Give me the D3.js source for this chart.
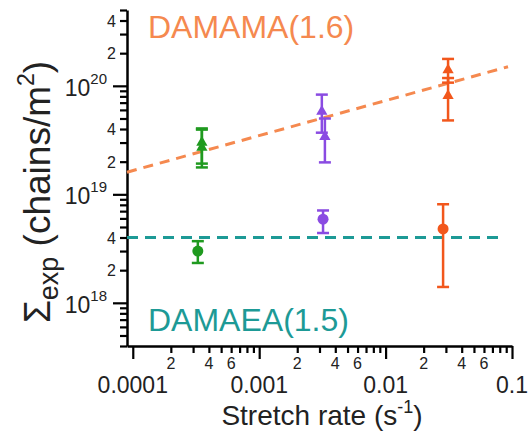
<!DOCTYPE html>
<html>
<head>
<meta charset="utf-8">
<script src="https://cdn.jsdelivr.net/npm/d3@7/dist/d3.min.js"></script>
<style>
  html, body { margin: 0; padding: 0; background: #ffffff; }
  svg { display: block; font-family: "Liberation Sans", Arial, Helvetica, sans-serif; }
</style>
</head>
<body>
<svg id="chart" width="531" height="439"></svg>
<script>
// ---- data ----
const groupColors = ["#1f9a1f", "#8a4be2", "#f2571c"];

// DAMAMA (triangles)
const triRate  = [3.52e-4, 3.52e-4, 3.13e-3, 3.31e-3, 0.0312, 0.0312];
const triSigma = [3.0e19, 2.7e19, 5.8e19, 3.4e19, 1.40e20, 8.1e19];
const triLow   = [1.92e19, 1.77e19, 3.7e19, 1.97e19, 1.07e20, 4.8e19];
const triHigh  = [4.05e19, 3.95e19, 8.3e19, 5.0e19, 1.77e20, 1.18e20];
const triGroup = [0, 0, 1, 1, 2, 2];

// DAMAEA (circles)
const circRate  = [3.27e-4, 3.2e-3, 0.0285];
const circSigma = [3.0e18, 5.9e18, 4.8e18];
const circLow   = [2.33e18, 4.4e18, 1.40e18];
const circHigh  = [3.7e18, 7.1e18, 8.1e18];
const circGroup = [0, 1, 2];

// fit lines
const mamaLineRate  = [9e-5, 0.093];
const mamaLineSigma = [1.6e19, 1.5e20];
const maeaLineRate  = [9e-5, 0.08];
const maeaLineSigma = [4e18, 4e18];

// ticks
const xMajorTicks = [1e-4, 1e-3, 1e-2, 1e-1];
const xMajorLabels = ["0.0001", "0.001", "0.01", "0.1"];
const xMinorMult = [2, 3, 4, 5, 6, 7, 8, 9];
const xMinorLabeled = [2, 4, 6];
const yMajorTicks = [1e18, 1e19, 1e20];
const yMajorExp = ["18", "19", "20"];
const yMinorLabeled = [2, 4];

// ---- drawing ----
const svg = d3.select("#chart");
svg.append("rect").attr("width", 531).attr("height", 439).attr("fill", "#fff");

const x = d3.scaleLog().domain([9e-5, 0.1]).range([127, 512]);
const y = d3.scaleLog().domain([4e17, 5e20]).range([346, 10]);

// minor tick value lists
const xMinor = [];
[1e-4, 1e-3, 1e-2].forEach(d => xMinorMult.forEach(m => xMinor.push(m * d)));
const yMinor = [];
[1e17, 1e18, 1e19, 1e20].forEach(d => xMinorMult.forEach(m => {
  const v = m * d;
  if (v >= 4e17 && v <= 5e20 + 1) yMinor.push(v);
}));

// x axis
const gx = svg.append("g").attr("transform", "translate(0,346)");
gx.call(d3.axisBottom(x).tickValues(xMajorTicks).tickSize(13).tickSizeOuter(0).tickFormat(""));
gx.append("g").call(d3.axisBottom(x).tickValues(xMinor).tickSize(7).tickSizeOuter(0).tickFormat(""));
gx.selectAll(".domain").attr("stroke", "#000").attr("stroke-width", 2.5);
gx.selectAll(".tick line").attr("stroke", "#000").attr("stroke-width", 2.2);
gx.selectAll("g g .domain").remove();

// x labels
xMajorTicks.forEach((v, i) => {
  svg.append("text").attr("x", x(v)).attr("y", 393)
    .attr("text-anchor", "middle").attr("font-size", 23).attr("fill", "#222")
    .text(xMajorLabels[i]);
});
xMinor.forEach(v => {
  const m = Math.round(v / Math.pow(10, Math.floor(Math.log10(v) + 1e-9)));
  if (xMinorLabeled.includes(m)) {
    svg.append("text").attr("x", x(v)).attr("y", 369)
      .attr("text-anchor", "middle").attr("font-size", 16).attr("fill", "#222")
      .text(m);
  }
});

// y axis
const gy = svg.append("g").attr("transform", "translate(127,0)");
gy.call(d3.axisLeft(y).tickValues(yMajorTicks).tickSize(14).tickSizeOuter(0).tickFormat(""));
gy.append("g").call(d3.axisLeft(y).tickValues(yMinor).tickSize(7).tickSizeOuter(0).tickFormat(""));
gy.selectAll(".domain").attr("stroke", "#000").attr("stroke-width", 2.5);
gy.selectAll(".tick line").attr("stroke", "#000").attr("stroke-width", 2.2);
gy.selectAll("g g .domain").remove();

// y labels
yMajorTicks.forEach((v, i) => {
  const t = svg.append("text").attr("x", 107).attr("y", y(v) + 10)
    .attr("text-anchor", "end").attr("fill", "#222");
  t.append("tspan").attr("font-size", 23).text("10");
  t.append("tspan").attr("font-size", 15).attr("dy", -12).text(yMajorExp[i]);
});
yMinor.forEach(v => {
  const m = Math.round(v / Math.pow(10, Math.floor(Math.log10(v) + 1e-9)));
  if (v > 1e18 && yMinorLabeled.includes(m)) {
    svg.append("text").attr("x", 116).attr("y", y(v) + 6)
      .attr("text-anchor", "end").attr("font-size", 16).attr("fill", "#222")
      .text(m);
  }
});

// axis titles
const yt = svg.append("text").attr("transform", "translate(50,192) rotate(-90)")
  .attr("text-anchor", "middle").attr("font-size", 37).attr("fill", "#222");
yt.append("tspan").text("\u03A3");
yt.append("tspan").attr("font-size", 27).attr("dy", 8).text("exp");
yt.append("tspan").attr("dy", -8).text(" (chains/m");
yt.append("tspan").attr("font-size", 23).attr("dy", -16).text("2");
yt.append("tspan").attr("dy", 16).text(")");

const xt = svg.append("text").attr("x", 322).attr("y", 425)
  .attr("text-anchor", "middle").attr("font-size", 28).attr("fill", "#222");
xt.append("tspan").text("Stretch rate (s");
xt.append("tspan").attr("font-size", 18).attr("dy", -12).text("-1");
xt.append("tspan").attr("dy", 12).text(")");

// fit lines
const line = d3.line().x(d => x(d[0])).y(d => y(d[1]));
svg.append("path")
  .attr("d", line(mamaLineRate.map((r, i) => [r, mamaLineSigma[i]])))
  .attr("fill", "none").attr("stroke", "#f5894f").attr("stroke-width", 3)
  .attr("stroke-dasharray", "10,7");
svg.append("path")
  .attr("d", line(maeaLineRate.map((r, i) => [r, maeaLineSigma[i]])))
  .attr("fill", "none").attr("stroke", "#1d9a96").attr("stroke-width", 3)
  .attr("stroke-dasharray", "11,7");

// error bars helper
function errBar(g, xv, lo, hi, color) {
  const px = x(xv);
  g.append("line").attr("x1", px).attr("x2", px).attr("y1", y(lo)).attr("y2", y(hi))
    .attr("stroke", color).attr("stroke-width", 2.5);
  [lo, hi].forEach(v => {
    g.append("line").attr("x1", px - 6).attr("x2", px + 6).attr("y1", y(v)).attr("y2", y(v))
      .attr("stroke", color).attr("stroke-width", 2.5);
  });
}

const marks = svg.append("g");
triRate.forEach((r, i) => errBar(marks, r, triLow[i], triHigh[i], groupColors[triGroup[i]]));
circRate.forEach((r, i) => errBar(marks, r, circLow[i], circHigh[i], groupColors[circGroup[i]]));

const tri = d3.symbol().type(d3.symbolTriangle).size(55);
triRate.forEach((r, i) => {
  marks.append("path").attr("d", tri())
    .attr("transform", `translate(${x(r)},${y(triSigma[i])})`)
    .attr("fill", groupColors[triGroup[i]]);
});
circRate.forEach((r, i) => {
  marks.append("circle").attr("cx", x(r)).attr("cy", y(circSigma[i])).attr("r", 5.5)
    .attr("fill", groupColors[circGroup[i]]);
});

// series labels
svg.append("text").attr("x", 148).attr("y", 38).attr("font-size", 32)
  .attr("fill", "#f5894f").text("DAMAMA(1.6)");
svg.append("text").attr("x", 148).attr("y", 331).attr("font-size", 32)
  .attr("fill", "#1d9a96").text("DAMAEA(1.5)");
</script>
</body>
</html>
